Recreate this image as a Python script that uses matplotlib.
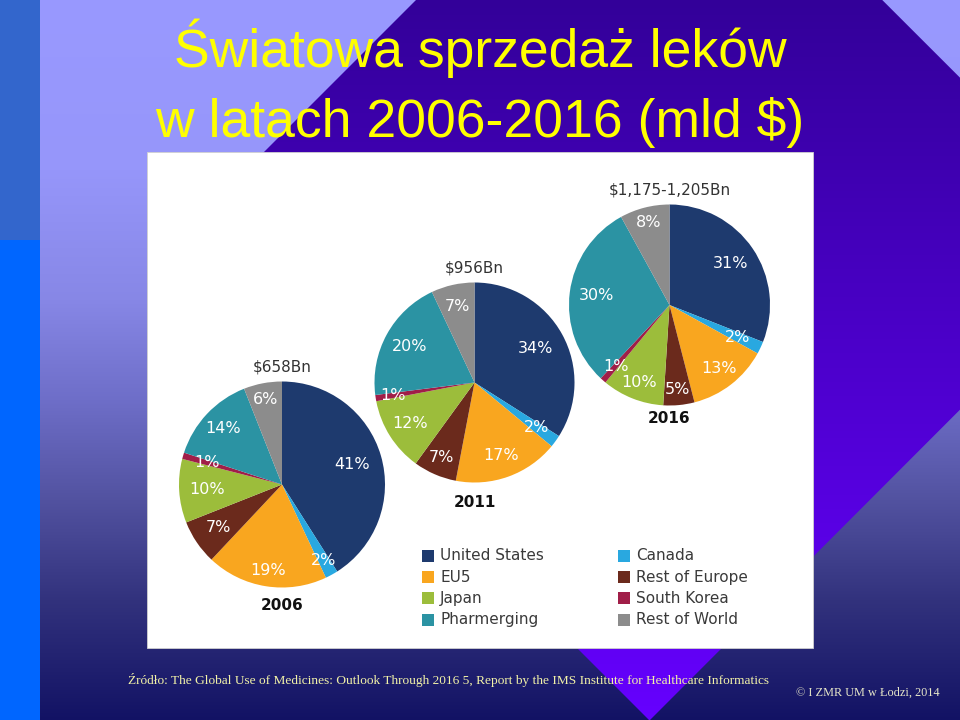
import numpy as np
import matplotlib.pyplot as plt
from matplotlib.patches import Rectangle, Polygon

# Data
regions = ['United States', 'Canada', 'EU5', 'Rest of Europe',
           'Japan', 'South Korea', 'Pharmerging', 'Rest of World']
region_colors = ['#1e3a6e', '#29a8e0', '#f9a61f', '#6b2a1c',
                 '#9cbd3b', '#a01e48', '#2b93a3', '#8c8c8c']
years = ['2006', '2011', '2016']
totals = ['$658Bn', '$956Bn', '$1,175-1,205Bn']
share_2006 = [41, 2, 19, 7, 10, 1, 14, 6]
share_2011 = [34, 2, 17, 7, 12, 1, 20, 7]
share_2016 = [31, 2, 13, 5, 10, 1, 30, 8]
shares = [share_2006, share_2011, share_2016]

title_lines = ['Światowa sprzedaż leków', 'w latach 2006-2016 (mld $)']
source_text = ('Źródło: The Global Use of Medicines: Outlook Through 2016 5, '
               'Report by the IMS Institute for Healthcare Informatics')
copyright_text = '© I ZMR UM w Łodzi, 2014'

# layout of the three pies (pixel space of the slide)
pie_centers = [(282, 484.5), (474.5, 382.5), (669.5, 305)]
pie_radii = [103, 100, 100.5]
label_dist = [[0.71, 0.84, 0.85, 0.75, 0.73, 0.76, 0.79, 0.84],
              [0.70, 0.77, 0.78, 0.82, 0.76, 0.83, 0.74, 0.78],
              [0.73, 0.75, 0.80, 0.84, 0.83, 0.81, 0.73, 0.85]]
year_gap = [18, 20, 13]

fig = plt.figure(figsize=(9.6, 7.2), dpi=100)
ax = fig.add_axes([0, 0, 1, 1])

# slide background: vertical gradient
gy = np.arange(720)
stop_y = [0, 170, 300, 400, 500, 600, 720]
stop_c = np.array([[153, 153, 255], [150, 150, 250], [135, 135, 230],
                   [110, 110, 200], [82, 82, 160], [50, 50, 125],
                   [18, 18, 100]]) / 255
bg = np.stack([np.interp(gy, stop_y, stop_c[:, k]) for k in range(3)], axis=-1)
ax.imshow(bg[:, None, :], extent=[40, 960, 720, 0], aspect='auto',
          interpolation='bilinear', zorder=0)

# purple diamond
purple = np.stack([np.interp(gy, [0, 720], [51 / 255, 102 / 255]),
                   np.zeros(720),
                   np.interp(gy, [0, 720], [153 / 255, 1.0])], axis=-1)
im = ax.imshow(purple[:, None, :], extent=[0, 960, 720, 0], aspect='auto',
               interpolation='bilinear', zorder=1)
diamond = Polygon([(172.5, 243.5), (649, -233), (1126, 243.5), (649.5, 720.5)],
                  closed=True, transform=ax.transData, facecolor='none', edgecolor='none')
ax.add_patch(diamond)
im.set_clip_path(diamond)

# left strip
ax.add_patch(Rectangle((0, 0), 40, 240, facecolor='#3366cc', edgecolor='none', zorder=2))
ax.add_patch(Rectangle((0, 240), 40, 480, facecolor='#0066ff', edgecolor='none', zorder=2))

# white chart panel
ax.add_patch(Rectangle((147, 152), 666, 496, facecolor='white',
                       edgecolor='#d0d0d0', linewidth=0.6, zorder=2))

for i in range(3):
    cx, cy = pie_centers[i]
    r = pie_radii[i]
    wedges, _ = ax.pie(shares[i], colors=region_colors, startangle=-90,
                       counterclock=True, center=(cx, cy), radius=r,
                       wedgeprops=dict(linewidth=0, zorder=3))
    for w, val, d in zip(wedges, shares[i], label_dist[i]):
        mid = np.deg2rad((w.theta1 + w.theta2) / 2)
        ax.text(cx + d * r * np.cos(mid), cy + d * r * np.sin(mid), f'{val}%',
                ha='center', va='center', color='white', fontsize=11.5,
                family='DejaVu Sans', zorder=4)
    ax.text(cx, cy - r - 14.5, totals[i], ha='center', va='center',
            color='#333333', fontsize=11, family='DejaVu Sans', zorder=4)
    ax.text(cx, cy + r + year_gap[i], years[i], ha='center', va='center',
            color='#111111', fontsize=11, fontweight='bold', family='DejaVu Sans', zorder=4)

# legend (two columns)
for k, name in enumerate(regions):
    col, row = k % 2, k // 2
    lx = 428 + col * 196
    ly = 556 + row * 21.2
    ax.scatter([lx], [ly], marker='s', s=70, color=region_colors[k],
               linewidths=0, zorder=4)
    ax.text(lx + 12, ly, name, ha='left', va='center', color='#3a3a3a',
            fontsize=11, family='DejaVu Sans', zorder=4)

# title
ax.text(480, 67, title_lines[0], ha='center', va='baseline', color='#ffff00',
        fontsize=38.5, family='Liberation Sans', zorder=4)
ax.text(480, 137, title_lines[1], ha='center', va='baseline', color='#ffff00',
        fontsize=38.5, family='Liberation Sans', zorder=4)

# source + copyright
ax.text(128, 684, source_text, ha='left', va='baseline', color='#f2f2a8',
        fontsize=9.6, family='Liberation Serif', zorder=4)
ax.text(940, 696, copyright_text, ha='right', va='baseline', color='#e6e6c8',
        fontsize=8.8, family='Liberation Serif', zorder=4)

ax.set_xlim(0, 960)
ax.set_ylim(720, 0)
ax.set_aspect('auto')
ax.axis('off')

plt.savefig('out.png', dpi=100)
plt.close()
